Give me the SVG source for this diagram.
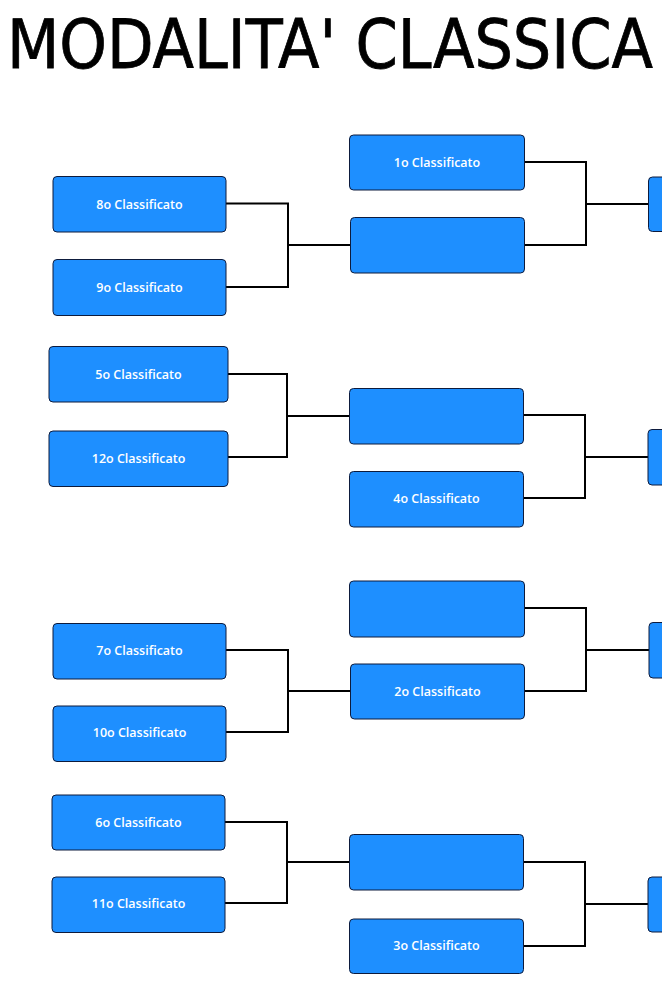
<svg xmlns="http://www.w3.org/2000/svg" width="662" height="999" viewBox="0 0 662 999">
<style>
.box{fill:#1e8fff;stroke:#0d1b3d;stroke-width:1}
.lbl{fill:#ffffff;font-family:"Open Sans","Liberation Sans",sans-serif;font-weight:600;font-size:12.5px;text-anchor:middle}
.con{fill:none;stroke:#000;stroke-width:2}
.title{fill:#000;stroke:#000;stroke-width:0.8;font-family:"DejaVu Sans","Liberation Sans",sans-serif;font-size:67px}
</style>
<rect width="662" height="999" fill="#fff"/>
<text class="title" x="7" y="68" textLength="646" lengthAdjust="spacingAndGlyphs">MODALITA' CLASSICA</text>
<g id="connectors">
<path class="con" d="M226,203.5 H288 V287 H226 M288,245 H350"/>
<path class="con" d="M524,162 H586 V245 H524 M586,204 H649"/>
<path class="con" d="M228,374 H287 V457 H228 M287,416 H349"/>
<path class="con" d="M523,415 H585 V498 H523 M585,457 H648"/>
<path class="con" d="M524,608 H586 V691 H524 M586,650 H649"/>
<path class="con" d="M226,650 H288 V732 H226 M288,691 H351"/>
<path class="con" d="M225,822 H287 V903 H225 M287,862 H349"/>
<path class="con" d="M523,862 H585 V946 H523 M585,904 H648"/>
</g>
<g id="n8"><rect class="box" x="53" y="176.5" width="173" height="55.5" rx="4"/><text class="lbl" x="139.5" y="208.5">8o Classificato</text></g>
<g id="n9"><rect class="box" x="53" y="259.5" width="173" height="56" rx="4"/><text class="lbl" x="139.5" y="291.5">9o Classificato</text></g>
<g id="n1"><rect class="box" x="349.5" y="135" width="175" height="55" rx="4"/><text class="lbl" x="437" y="166.5">1o Classificato</text></g>
<g id="wA"><rect class="box" x="350.5" y="217.5" width="174" height="55.5" rx="4"/></g>
<g id="rA"><rect class="box" x="648.5" y="177" width="175" height="54.5" rx="4"/></g>
<g id="n5"><rect class="box" x="49" y="346.5" width="179" height="55.5" rx="4"/><text class="lbl" x="138.5" y="378.5">5o Classificato</text></g>
<g id="n12"><rect class="box" x="49" y="431" width="179" height="55.5" rx="4"/><text class="lbl" x="138.5" y="462.5">12o Classificato</text></g>
<g id="wB"><rect class="box" x="349.5" y="388.5" width="174" height="55.5" rx="4"/></g>
<g id="n4"><rect class="box" x="349.5" y="471.5" width="174" height="55.5" rx="4"/><text class="lbl" x="436.5" y="502.5">4o Classificato</text></g>
<g id="rB"><rect class="box" x="648" y="429.5" width="175" height="55.5" rx="4"/></g>
<g id="wC"><rect class="box" x="349.5" y="581" width="175" height="56" rx="4"/></g>
<g id="n2"><rect class="box" x="350.5" y="664" width="174" height="55" rx="4"/><text class="lbl" x="437.5" y="695.5">2o Classificato</text></g>
<g id="rC"><rect class="box" x="649" y="622.5" width="175" height="55.5" rx="4"/></g>
<g id="n7"><rect class="box" x="53" y="623.5" width="173" height="55.5" rx="4"/><text class="lbl" x="139.5" y="655">7o Classificato</text></g>
<g id="n10"><rect class="box" x="53" y="706" width="173" height="55.5" rx="4"/><text class="lbl" x="139.5" y="737">10o Classificato</text></g>
<g id="n6"><rect class="box" x="52" y="795" width="173" height="55" rx="4"/><text class="lbl" x="138.5" y="826.5">6o Classificato</text></g>
<g id="n11"><rect class="box" x="52" y="877" width="173" height="55.5" rx="4"/><text class="lbl" x="138.5" y="908">11o Classificato</text></g>
<g id="wD"><rect class="box" x="349.5" y="834.5" width="174" height="55.5" rx="4"/></g>
<g id="n3"><rect class="box" x="349.5" y="919" width="174" height="54.5" rx="4"/><text class="lbl" x="436.5" y="950">3o Classificato</text></g>
<g id="rD"><rect class="box" x="648" y="877" width="175" height="55" rx="4"/></g>
</svg>
